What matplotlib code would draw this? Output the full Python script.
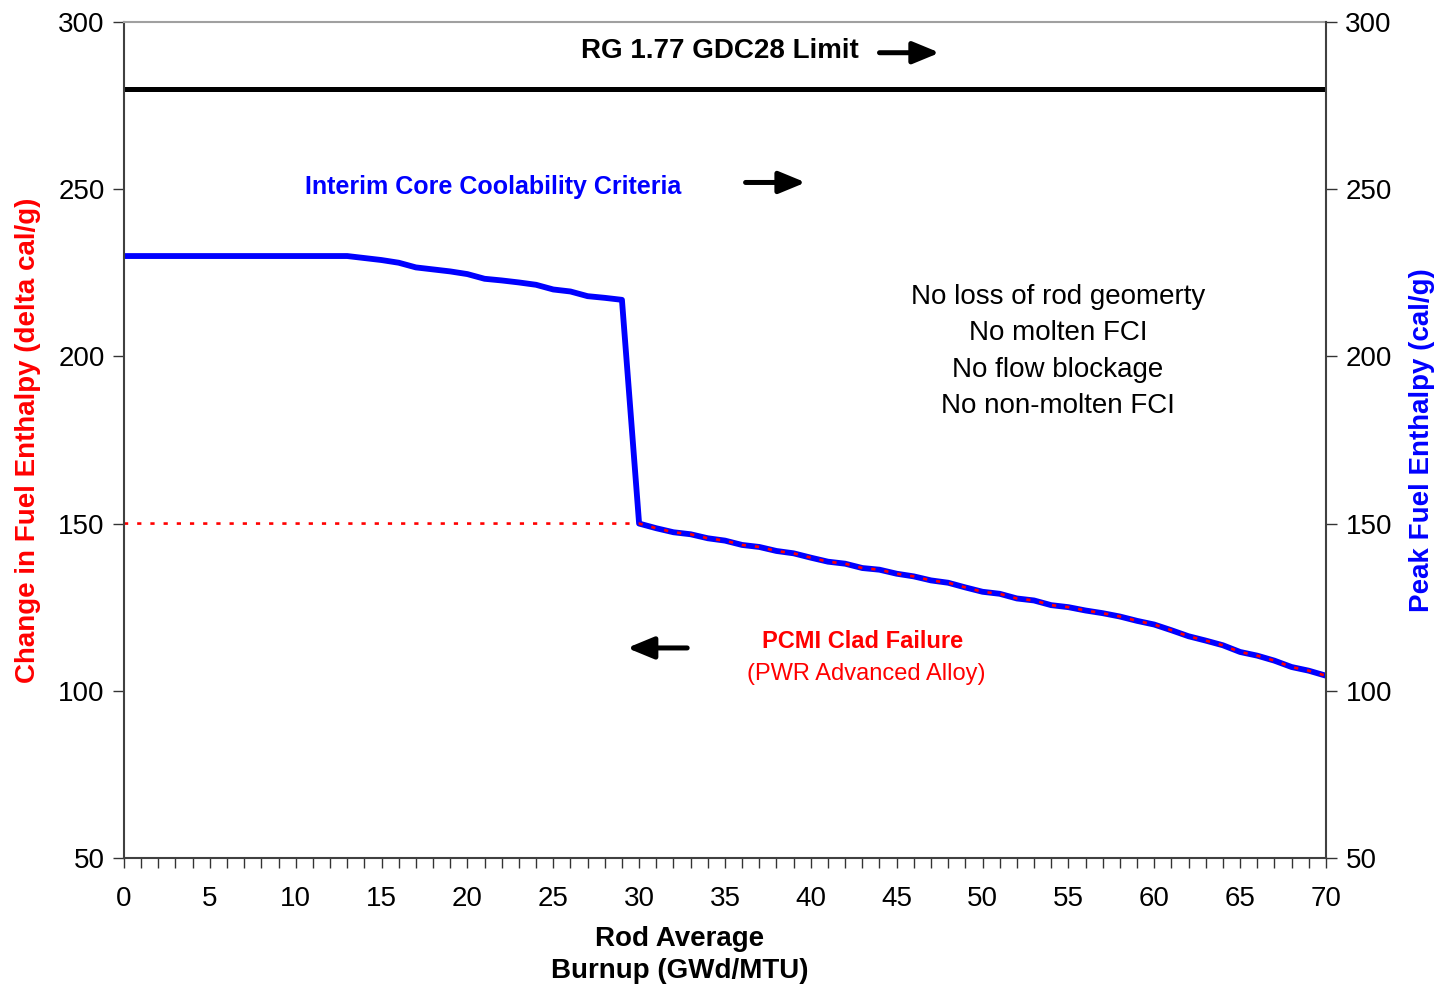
import matplotlib
matplotlib.use('Agg')
import matplotlib.pyplot as plt
from matplotlib.ticker import MultipleLocator
import numpy as np

plt.rcParams['font.family'] = ['Liberation Sans', 'DejaVu Sans']

# rod average burnup (GWd/MTU) and the coolability curve (cal/g)
burnup = np.arange(0, 71)
coolability = [230, 230, 230, 230, 230, 230, 230, 230, 230, 230,
               230, 230, 230, 230, 229.4, 228.8, 228.0, 226.6, 226.0, 225.4,
               224.6, 223.2, 222.7, 222.1, 221.4, 220.0, 219.4, 218.0, 217.5, 216.9,
               150.0, 148.6, 147.4, 146.8, 145.6, 144.9, 143.6, 143.0, 141.8, 141.1,
               139.8, 138.6, 138.0, 136.7, 136.2, 135.0, 134.2, 133.0, 132.3, 130.9,
               129.6, 129.0, 127.6, 127.0, 125.6, 125.0, 124.0, 123.2, 122.2, 120.9,
               119.8, 118.1, 116.3, 115.0, 113.6, 111.6, 110.5, 109.0, 107.1, 106.0,
               104.5]

# PCMI clad failure threshold: flat to 30 GWd/MTU, then follows the curve
pcmi_plateau = 150
pcmi_knee = 30
gdc28_limit = 280

info_lines = ['No loss of rod geomerty', 'No molten FCI', 'No flow blockage', 'No non-molten FCI']

coolability = np.array(coolability)
pcmi_x = np.concatenate([[0], burnup[burnup >= pcmi_knee]])
pcmi_y = np.concatenate([[pcmi_plateau], coolability[burnup >= pcmi_knee]])

fig = plt.figure(figsize=(14.35, 9.89), dpi=100)
ax = fig.add_axes([0.0864, 0.1325, 0.8376, 0.8453])

ax.plot([0, 70], [gdc28_limit, gdc28_limit], color='black', lw=3.6, solid_capstyle='round')
ax.plot(burnup, coolability, color='#0000ff', lw=4.2, solid_joinstyle='round')
ax.plot(pcmi_x, pcmi_y, color='#ff0000', lw=1.9, linestyle=(0, (1.6, 3.4)),
        dash_capstyle='butt')

ax.set_xlim(0, 70)
ax.set_ylim(50, 300)
ax.xaxis.set_major_locator(MultipleLocator(5))
ax.xaxis.set_minor_locator(MultipleLocator(1))
ax.yaxis.set_major_locator(MultipleLocator(50))
ax.tick_params(axis='x', which='both', direction='out', length=7, width=1, labelsize=20,
               pad=13, colors='#333333', labelcolor='black')
ax.tick_params(axis='y', direction='out', length=8, width=1, labelsize=20, pad=6,
               colors='#333333', labelcolor='black')

for s in ['left', 'bottom']:
    ax.spines[s].set_color('#404040')
    ax.spines[s].set_linewidth(1.5)
ax.spines['top'].set_color('#a0a0a0')
ax.spines['top'].set_linewidth(1.5)
ax.spines['right'].set_visible(False)

ax2 = ax.twinx()
ax2.set_ylim(50, 300)
ax2.yaxis.set_major_locator(MultipleLocator(50))
ax2.tick_params(axis='y', direction='out', length=8, width=1, labelsize=20, pad=6,
                colors='#333333', labelcolor='black')
ax2.spines['right'].set_color('#404040')
ax2.spines['right'].set_linewidth(1.5)
for s in ['left', 'top', 'bottom']:
    ax2.spines[s].set_visible(False)

ax.set_xlabel('Rod Average\nBurnup (GWd/MTU)', fontsize=20, fontweight='bold',
              linespacing=1.3)
ax.xaxis.set_label_coords(0.4626, -0.081, transform=ax.transAxes)
ax.set_ylabel('Change in Fuel Enthalpy (delta cal/g)', fontsize=20, fontweight='bold',
              color='#ff0000', labelpad=12)
ax2.set_ylabel('Peak Fuel Enthalpy (cal/g)', fontsize=20, fontweight='bold',
               color='#0000ff', labelpad=12)

ax.text(34.7, 291.4, 'RG 1.77 GDC28 Limit', fontsize=20, fontweight='bold',
        ha='center', va='center')
ax.text(21.5, 250.6, 'Interim Core Coolability Criteria', fontsize=18, fontweight='bold',
        color='#0000ff', ha='center', va='center')
for i, line in enumerate(info_lines):
    ax.text(54.4, 217.8 - i * 10.9, line, fontsize=20, ha='center', va='center')
ax.text(43.0, 114.6, 'PCMI Clad Failure', fontsize=17, fontweight='bold',
        color='#ff0000', ha='center', va='center')
ax.text(43.2, 105.0, '(PWR Advanced Alloy)', fontsize=17, color='#ff0000',
        ha='center', va='center')

arrow = dict(arrowstyle='-|>,head_length=0.8,head_width=0.33', color='black', lw=3.6,
             shrinkA=0, shrinkB=0, mutation_scale=20)
ax.annotate('', xy=(47.5, 290.8), xytext=(44.0, 290.8), arrowprops=arrow)
ax.annotate('', xy=(39.7, 252.0), xytext=(36.2, 252.0), arrowprops=arrow)
ax.annotate('', xy=(29.3, 112.8), xytext=(32.8, 112.8), arrowprops=arrow)

fig.savefig('out.png', dpi=100)
